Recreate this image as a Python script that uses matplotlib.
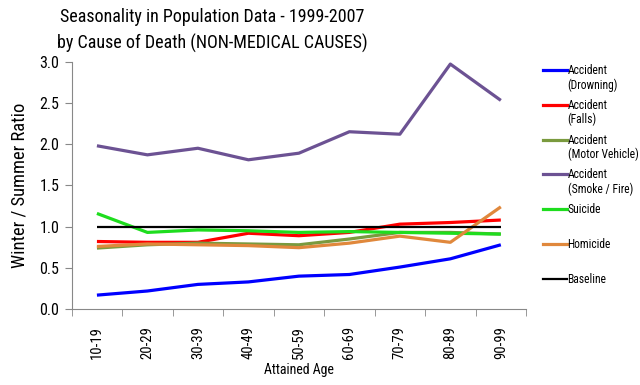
import numpy as np
import matplotlib.pyplot as plt
from matplotlib.lines import Line2D
from matplotlib import font_manager
from matplotlib.font_manager import FontProperties

# Buscar una fuente estrecha instalada
def fuente_estrecha():
    fuentes = font_manager.fontManager.ttflist
    for nombre in ['Liberation Sans Narrow', 'Roboto Condensed', 'Open Sans Condensed',
                   'Noto Sans Condensed', 'DejaVu Sans Condensed']:
        for f in fuentes:
            if f.name == nombre and f.weight in (400, 'normal', 'regular') and f.style == 'normal':
                return f.fname
    for f in fuentes:
        if 'condensed' in str(f.stretch) and f.style == 'normal' and f.weight in (400, 'normal', 'regular'):
            return f.fname
    return None

ruta = fuente_estrecha()

def fp(size):
    if ruta:
        return FontProperties(fname=ruta, size=size)
    return FontProperties(family='Liberation Sans', size=size * 0.85)

edades = ['10-19', '20-29', '30-39', '40-49', '50-59', '60-69', '70-79', '80-89', '90-99']

drowning = [0.17, 0.22, 0.30, 0.33, 0.40, 0.42, 0.51, 0.61, 0.78]
falls = [0.82, 0.81, 0.81, 0.92, 0.89, 0.93, 1.03, 1.05, 1.08]
motor = [0.74, 0.78, 0.80, 0.79, 0.78, 0.85, 0.93, 0.93, 0.91]
smoke_fire = [1.98, 1.87, 1.95, 1.81, 1.89, 2.15, 2.12, 2.97, 2.53]
suicide = [1.16, 0.93, 0.96, 0.95, 0.93, 0.94, 0.93, 0.92, 0.91]
homicide = [0.76, 0.79, 0.78, 0.77, 0.745, 0.80, 0.885, 0.81, 1.24]
baseline = [1.0] * 9

series = [
    ('Accident\n(Drowning)', drowning, '#0000FF', 2.3),
    ('Accident\n(Falls)', falls, '#FF0000', 2.3),
    ('Accident\n(Motor Vehicle)', motor, '#7A9A3E', 2.3),
    ('Accident\n(Smoke / Fire)', smoke_fire, '#6C5293', 2.3),
    ('Suicide', suicide, '#1EDD1E', 2.3),
    ('Homicide', homicide, '#E0883C', 2.3),
    ('Baseline', baseline, '#000000', 1.6),
]

fig = plt.figure(figsize=(6.4, 3.85), dpi=100)
ax = fig.add_axes([0.112, 0.197, 0.71, 0.643])

x = np.arange(len(edades))
for nombre, valores, color, lw in series:
    ax.plot(x, valores, color=color, lw=lw, solid_capstyle='butt')

ax.set_xlim(-0.5, len(edades) - 0.5)
ax.set_ylim(0, 3.0)
ax.set_yticks(np.arange(0, 3.01, 0.5))
ax.set_yticklabels(['%.1f' % v for v in np.arange(0, 3.01, 0.5)], fontproperties=fp(11.5))
ax.set_xticks(x)
ax.set_xticklabels(edades, rotation=90, fontproperties=fp(10.5))
ax.set_xticks(np.arange(-0.5, len(edades) - 0.4, 1), minor=True)
ax.tick_params(axis='x', which='major', length=0, pad=12)
ax.tick_params(axis='x', which='minor', length=5, color='#888888')
ax.tick_params(axis='y', length=5, color='#888888', pad=4)

for lado in ['top', 'right']:
    ax.spines[lado].set_visible(False)
for lado in ['left', 'bottom']:
    ax.spines[lado].set_color('#888888')

ax.set_xlabel('Attained Age', fontproperties=fp(10), labelpad=3)
ax.set_ylabel('Winter / Summer Ratio', fontproperties=fp(13.3), labelpad=8)

fig.text(0.331, 1 - 17 / 385, 'Seasonality in Population Data - 1999-2007',
         ha='center', va='center', fontproperties=fp(13))
fig.text(0.331, 1 - 43 / 385, 'by Cause of Death (NON-MEDICAL CAUSES)',
         ha='center', va='center', fontproperties=fp(13))

# Leyenda a la derecha
y0 = 70
paso = 34.8
for i, (nombre, valores, color, lw) in enumerate(series):
    yp = y0 + i * paso
    yf = 1 - yp / 385
    fig.add_artist(Line2D([543 / 640, 567 / 640], [yf, yf], color=color, lw=lw))
    fig.text(567.5 / 640, 1 - (yp - 6) / 385, nombre, ha='left', va='top',
             fontproperties=fp(8.4), linespacing=1.12)

fig.savefig('out.png', dpi=100)
